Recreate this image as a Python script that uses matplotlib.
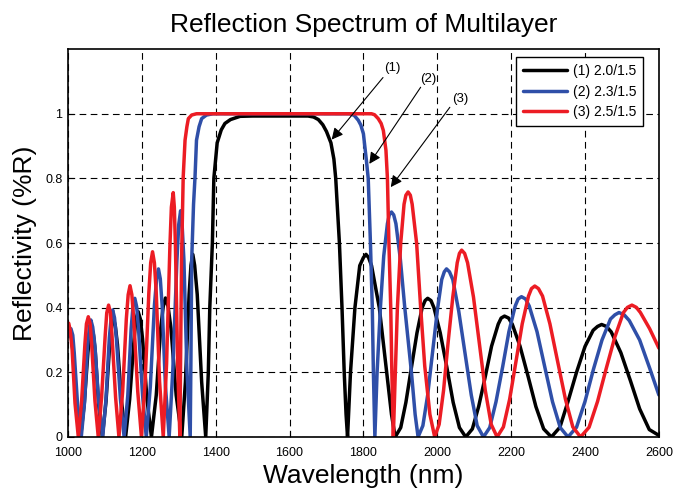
import numpy as np
import matplotlib
matplotlib.use('Agg')
import matplotlib.pyplot as plt

plt.rcParams['font.family'] = ['Liberation Sans', 'DejaVu Sans']

# ==========================================
# data
# ==========================================
black_wl = [1000, 1004, 1009, 1014, 1024, 1034,
            1044, 1054, 1059, 1064, 1069, 1074, 1083, 1093,
            1103, 1113, 1118, 1123, 1128, 1134, 1145, 1156,
            1167, 1179, 1184, 1190, 1196, 1202, 1214, 1226,
            1239, 1251, 1258, 1264, 1271, 1279, 1293, 1308,
            1318, 1328, 1333, 1338, 1343, 1350, 1362, 1373,
            1380, 1384, 1391, 1395, 1404, 1415, 1425, 1440, 1466, 1500, 1600,
            1650, 1665, 1678, 1690, 1700, 1712, 1720, 1725, 1735, 1742, 1748, 1753, 1757,
            1765, 1777, 1790, 1800, 1807, 1814, 1822, 1843, 1863, 1876, 1886,
            1901, 1915, 1930, 1945, 1959, 1967, 1974, 1983, 1991, 2008, 2026, 2043, 2060, 2077,
            2095, 2112, 2130, 2147, 2165, 2173, 2182, 2193, 2203, 2224, 2246, 2267, 2288, 2309,
            2332, 2354, 2377, 2400, 2422, 2434, 2445, 2458, 2471, 2497, 2523, 2548, 2574, 2600]
black_r = [0.315, 0.33, 0.31, 0.258, 0.10, 0,
           0.101, 0.262, 0.316, 0.336, 0.316, 0.262, 0.101, 0,
           0.110, 0.286, 0.345, 0.367, 0.345, 0.286, 0.110, 0,
           0.116, 0.303, 0.365, 0.388, 0.365, 0.303, 0.116, 0,
           0.129, 0.335, 0.404, 0.43, 0.404, 0.335, 0.129, 0,
           0.170, 0.441, 0.531, 0.565, 0.531, 0.441, 0.170, 0,
           0.2, 0.4, 0.6, 0.8, 0.91, 0.95, 0.97, 0.982, 0.992, 0.993, 0.993,
           0.993, 0.99, 0.982, 0.966, 0.945, 0.91, 0.86, 0.80, 0.60, 0.40, 0.20, 0.07, 0,
           0.2, 0.4, 0.53, 0.555, 0.565, 0.555, 0.53, 0.4, 0.2, 0.07, 0,
           0.029, 0.107, 0.215, 0.322, 0.400, 0.422, 0.429, 0.422, 0.400, 0.322, 0.215, 0.107, 0.029, 0,
           0.025, 0.094, 0.187, 0.281, 0.349, 0.368, 0.374, 0.368, 0.349, 0.281, 0.187, 0.094, 0.025, 0,
           0.03, 0.11, 0.2, 0.28, 0.33, 0.342, 0.348, 0.342, 0.325, 0.261, 0.174, 0.087, 0.023, 0.005]

blue_wl = [1000, 1008, 1013, 1017, 1026, 1036,
           1045, 1053, 1058, 1062, 1067, 1073, 1083, 1094,
           1103, 1112, 1117, 1121, 1126, 1131, 1142, 1152,
           1162, 1171, 1176, 1181, 1186, 1191, 1202, 1212,
           1223, 1234, 1240, 1245, 1250, 1255, 1264, 1274,
           1284, 1295, 1300, 1305, 1309, 1314, 1322, 1331,
           1333, 1335, 1340, 1344, 1348, 1355, 1362, 1375, 1393, 1500,
           1763, 1775, 1786, 1793, 1800, 1808, 1813, 1819, 1824, 1827, 1831,
           1837, 1846, 1855, 1865, 1870, 1876, 1882, 1888, 1900, 1912, 1930, 1940, 1948,
           1961, 1974, 1987, 2000, 2012, 2019, 2025, 2033, 2042, 2058, 2075, 2092, 2108, 2125,
           2142, 2159, 2177, 2194, 2211, 2219, 2228, 2239, 2249, 2270, 2291, 2312, 2333, 2354,
           2377, 2400, 2423, 2446, 2469, 2481, 2492, 2506, 2520, 2548, 2576, 2600]
blue_r = [0.31, 0.335, 0.315, 0.26, 0.10, 0,
          0.109, 0.282, 0.340, 0.362, 0.340, 0.282, 0.109, 0,
          0.118, 0.307, 0.369, 0.393, 0.369, 0.307, 0.118, 0,
          0.129, 0.335, 0.403, 0.429, 0.403, 0.335, 0.129, 0,
          0.156, 0.406, 0.489, 0.52, 0.489, 0.406, 0.156, 0,
          0.21, 0.546, 0.658, 0.70, 0.658, 0.546, 0.21, 0,
          0.25, 0.547, 0.72, 0.804, 0.918, 0.96, 0.985, 0.996, 1.0, 1.0,
          1.0, 0.995, 0.98, 0.965, 0.938, 0.856, 0.8, 0.6, 0.4, 0.2, 0,
          0.2, 0.4, 0.56, 0.66, 0.687, 0.696, 0.687, 0.66, 0.55, 0.4, 0.2, 0.07, 0,
          0.035, 0.13, 0.26, 0.39, 0.487, 0.511, 0.52, 0.511, 0.487, 0.39, 0.26, 0.13, 0.035, 0,
          0.029, 0.109, 0.217, 0.326, 0.405, 0.427, 0.434, 0.427, 0.405, 0.326, 0.217, 0.109, 0.029, 0,
          0.03, 0.11, 0.21, 0.3, 0.365, 0.378, 0.385, 0.378, 0.36, 0.30, 0.21, 0.13]

red_wl = [1000, 1002, 1006, 1011, 1019, 1028,
          1037, 1046, 1050, 1055, 1060, 1064, 1073, 1082,
          1091, 1101, 1105, 1110, 1115, 1119, 1129, 1138,
          1148, 1158, 1163, 1168, 1173, 1178, 1189, 1199,
          1209, 1219, 1224, 1229, 1234, 1239, 1248, 1258,
          1267, 1276, 1280, 1285, 1288, 1291, 1297, 1303,
          1305, 1307.5, 1312, 1317, 1322, 1326, 1335, 1348, 1500,
          1822, 1830, 1840, 1848, 1854, 1861, 1865, 1869, 1874, 1877, 1881,
          1885, 1892, 1901, 1910, 1915, 1921, 1927, 1932, 1944, 1955, 1966, 1980, 1993,
          2005, 2017, 2029, 2042, 2054, 2060, 2066, 2074, 2082, 2098, 2114, 2130, 2146, 2162,
          2179, 2196, 2213, 2230, 2247, 2255, 2264, 2274, 2285, 2305, 2326, 2347, 2367, 2388,
          2411, 2434, 2457, 2481, 2504, 2515, 2527, 2539, 2550, 2575, 2600]
red_r = [0.35, 0.352, 0.33, 0.275, 0.105, 0,
         0.112, 0.290, 0.350, 0.372, 0.350, 0.290, 0.112, 0,
         0.122, 0.318, 0.384, 0.408, 0.384, 0.318, 0.122, 0,
         0.140, 0.365, 0.440, 0.468, 0.440, 0.365, 0.140, 0,
         0.172, 0.447, 0.539, 0.573, 0.539, 0.447, 0.172, 0,
         0.227, 0.590, 0.711, 0.756, 0.711, 0.590, 0.227, 0,
         0.25, 0.547, 0.804, 0.918, 0.96, 0.985, 0.996, 1.0, 1.0,
         1.0, 0.997, 0.985, 0.97, 0.948, 0.887, 0.8, 0.6, 0.4, 0.2, 0,
         0.15, 0.4, 0.6, 0.72, 0.748, 0.758, 0.748, 0.72, 0.6, 0.4, 0.22, 0.07, 0,
         0.039, 0.144, 0.289, 0.433, 0.539, 0.568, 0.578, 0.568, 0.539, 0.433, 0.289, 0.144, 0.039, 0,
         0.031, 0.117, 0.233, 0.35, 0.436, 0.459, 0.467, 0.459, 0.436, 0.35, 0.233, 0.117, 0.031, 0,
         0.03, 0.11, 0.21, 0.31, 0.385, 0.401, 0.408, 0.401, 0.385, 0.335, 0.275]

series_labels = ['(1) 2.0/1.5', '(2) 2.3/1.5', '(3) 2.5/1.5']
series_colors = ['#000000', '#2f4fa8', '#ec1c24']

x_ticks = [1000, 1200, 1400, 1600, 1800, 2000, 2200, 2400, 2600]
y_ticks = [0, 0.2, 0.4, 0.6, 0.8, 1.0]
y_tick_labels = ['0', '0.2', '0.4', '0.6', '0.8', '1']

# callout labels: (text, label pos, arrow tail, arrow tip)
callouts = [('(1)', (1878, 1.140), (1853, 1.112), (1714, 0.920)),
            ('(2)', (1975, 1.108), (1955, 1.082), (1816, 0.845)),
            ('(3)', (2062, 1.046), (2034, 1.020), (1874, 0.773))]


def main():
    fig = plt.figure(figsize=(6.73, 4.91), dpi=100)
    ax = fig.add_axes([0.101, 0.110, 0.878, 0.790])

    curves = [(black_wl, black_r), (blue_wl, blue_r), (red_wl, red_r)]
    for (wl, r), lab, col in zip(curves, series_labels, series_colors):
        ax.plot(wl, r, color=col, linewidth=2.5, label=lab,
                solid_joinstyle='round', solid_capstyle='round')

    ax.set_xlim(1000, 2600)
    ax.set_ylim(0, 1.2)
    ax.set_xticks(x_ticks)
    ax.set_yticks(y_ticks)
    ax.set_yticklabels(y_tick_labels)
    ax.tick_params(direction='in', length=4, width=0.8, labelsize=9, pad=4)
    ax.tick_params(axis='x', pad=7)
    ax.grid(True, color='black', linestyle=(0, (6, 4)), linewidth=0.8)
    for s in ax.spines.values():
        s.set_linewidth(1.2)

    ax.set_title('Reflection Spectrum of Multilayer', fontsize=19, pad=12)
    ax.set_xlabel('Wavelength (nm)', fontsize=19, labelpad=4)
    ax.set_ylabel('Reflectivity (%R)', fontsize=19, labelpad=6)

    for txt, lpos, tail, tip in callouts:
        ax.annotate('', xy=tip, xytext=tail,
                    arrowprops=dict(arrowstyle='-|>', color='black', lw=0.8,
                                    mutation_scale=17, shrinkA=0, shrinkB=0))
        ax.text(lpos[0], lpos[1], txt, fontsize=9.5, ha='center', va='center')

    leg = ax.legend(loc='upper right', bbox_to_anchor=(0.9734, 0.9786),
                    borderaxespad=0, fontsize=10, handlelength=3.2,
                    handletextpad=0.4, labelspacing=0.45, borderpad=0.5,
                    fancybox=False, framealpha=1, edgecolor='black')
    leg.get_frame().set_linewidth(1.0)

    fig.savefig('out.png', dpi=100)


if __name__ == '__main__':
    main()
